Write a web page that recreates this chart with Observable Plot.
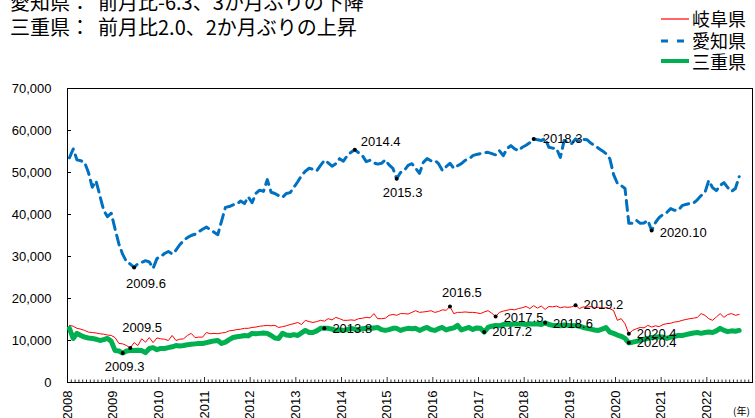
<!DOCTYPE html>
<html><head><meta charset="utf-8">
<script src="https://cdn.jsdelivr.net/npm/d3@7"></script>
<script src="https://cdn.jsdelivr.net/npm/@observablehq/plot@0.6"></script>
<style>
body{margin:0;background:#fff;}
#wrap{position:relative;width:755px;height:418px;overflow:hidden;background:#fff;font-family:"Noto Sans CJK JP",sans-serif;color:#000;}
.t{position:absolute;font-size:20px;line-height:20px;white-space:nowrap;}
.lgt{position:absolute;font-size:18px;line-height:18px;white-space:nowrap;left:692px;}
.lgl{position:absolute;left:661px;}
#chart{position:absolute;left:0;top:0;}
#unit{position:absolute;left:733px;top:406px;font-size:10px;line-height:10px;}
</style></head><body>
<div id="wrap">
  <div id="chart"></div>
  <div class="t" style="left:10px;top:-8px">愛知県：</div>
  <div class="t" style="left:98px;top:-8px">前月比-6.3、3か月ぶりの下降</div>
  <div class="t" style="left:10px;top:17px">三重県：</div>
  <div class="t" style="left:98px;top:17px">前月比2.0、2か月ぶりの上昇</div>
  <svg class="lgl" style="top:14px" width="28" height="10"><line x1="0" x2="28" y1="5" y2="5" stroke="#ff0000" stroke-width="1.2"/></svg>
  <div class="lgt" style="top:9px">岐阜県</div>
  <svg class="lgl" style="top:36px" width="28" height="10"><line x1="0" x2="28" y1="5" y2="5" stroke="#0070c0" stroke-width="3" stroke-dasharray="7,9"/></svg>
  <div class="lgt" style="top:31px">愛知県</div>
  <svg class="lgl" style="top:56px" width="28" height="10"><line x1="0" x2="28" y1="5" y2="5" stroke="#00b050" stroke-width="4"/></svg>
  <div class="lgt" style="top:52px">三重県</div>
  <div id="unit">(年)</div>
</div>
<script>
// ---- data (monthly, Jan 2008 onward) ----
const startYear = 2008;
const seriesNames = ["岐阜県", "愛知県", "三重県"];
const gifu = [
  13600,13400,12900,12700,12400,12000,11900,11800,11600,11500,11300,11200,
  10700,9300,9200,8800,8200,9500,8800,10400,9600,10700,9500,10600,
  10400,10300,10000,11200,10000,10300,10400,11200,11700,10700,10800,10800,
  11900,11600,11700,11600,11800,11900,12300,12400,12600,12700,12900,12900,
  13100,13200,13400,13500,13600,13500,13600,13100,13300,13500,13800,14000,
  14300,13800,14800,14500,14300,14500,14800,14600,15200,14900,15500,15200,
  14800,14800,14900,14800,15200,15300,15500,15400,16400,15200,15200,15300,
  16000,16200,16000,16400,16400,16300,16700,17100,16700,16800,16900,17100,
  16700,16900,17300,17200,18100,16400,16700,16700,16800,16700,16700,16600,
  16400,16800,17100,16500,15700,16700,17000,17200,17400,17300,17600,17800,
  18100,17600,18300,17700,18200,17400,18100,18000,18200,17800,18000,17900,
  18000,18400,17600,18000,17900,18100,17800,17900,17700,17800,17600,17100,
  14800,15200,14000,11600,12400,12800,13100,13000,13600,13200,13500,13300,
  13800,14000,14100,14400,14500,14800,15000,15200,15300,15500,16400,16000,
  15200,14800,15600,16400,15500,16200,16400,16000,16200
];
const aichi = [
  53500,55600,53000,52800,52400,50000,46500,48000,44500,41000,39500,40300,
  36500,33000,30500,28800,28200,27400,28300,28600,29000,28700,27200,29500,
  30000,30700,31200,30600,31500,32800,33800,34500,35000,35300,35900,36500,
  37000,36400,35800,35200,38500,41700,41900,42300,42500,43200,42600,44200,
  42800,45000,45800,45500,48300,45300,45000,44500,44100,45000,45200,46500,
  47800,49300,50300,51000,50800,50400,51700,52900,52300,51500,52100,53300,
  52700,54000,54800,55400,54700,54000,52600,52900,52300,52000,52200,53000,
  51800,51000,48500,50000,50500,51700,52100,51000,49800,52400,53300,52800,
  52900,52100,50500,51400,52200,51000,51600,52100,52900,53200,54000,54300,
  54500,54700,54800,54500,54200,55200,54000,55700,56400,55600,55200,56000,
  56500,57100,58000,57800,57600,58100,56000,55800,55700,53600,57600,57200,
  56900,58000,57400,57900,57800,57000,56400,55800,55200,54500,53300,49500,
  47400,46900,46200,37900,37900,38600,37900,38000,38600,36200,38100,39300,
  40000,40500,41400,41000,41000,42100,42400,42600,42700,43500,44500,45200,
  48100,46400,45700,46900,47600,46400,45500,46200,49000
];
const mie = [
  12900,10500,11700,11200,10800,10600,10500,10300,10000,10200,10500,9800,
  7600,7500,7000,7500,7600,7600,7700,7600,7100,8100,8300,7800,
  8100,8100,8300,8500,8800,8700,8800,9000,9100,9200,9300,9300,
  9500,9700,9900,10000,9300,9600,10200,10700,10900,11000,11200,11100,
  11700,11600,11700,11800,11700,11200,10600,10500,11700,11300,11200,11400,
  11200,11800,12400,11900,11900,12300,12900,12900,12900,12700,12400,12500,
  12400,12600,12900,12700,12600,12800,12900,12900,13000,13100,12600,12400,
  12600,12900,12900,12400,12700,12900,12800,12900,12400,12800,13100,12600,
  12400,12800,13100,12500,12800,13000,13600,12500,12800,13100,12600,13000,
  12900,12000,13100,13400,13600,13500,13800,13900,13800,14000,13900,14000,
  13800,14000,13900,14000,13800,14200,13800,13600,13600,13500,13700,13600,
  13500,13600,13400,13100,12900,12700,12500,12400,12700,13100,12000,11700,
  11300,11000,10500,9450,9600,9800,10000,10300,10500,10700,10800,10900,
  10800,10500,10800,11000,11200,11200,11400,11600,11800,11900,11700,11900,
  12000,11900,12300,12900,12400,12100,12300,12200,12400
];
const yTicks = [0, 10000, 20000, 30000, 40000, 50000, 60000, 70000];
const yearLabels = [2008,2009,2010,2011,2012,2013,2014,2015,2016,2017,2018,2019,2020,2021,2022];
const annotationSeries = ["愛知県","愛知県","愛知県","愛知県","愛知県",
  "岐阜県","岐阜県","岐阜県","岐阜県","岐阜県",
  "三重県","三重県","三重県","三重県","三重県"];
const annotationMonths = ["2009.6","2014.4","2015.3","2018.3","2020.10",
  "2009.5","2016.5","2017.5","2019.2","2020.4",
  "2009.3","2013.8","2017.2","2018.6","2020.4"];

// ---- layout / styles ----
const W = 755, H = 418, mL = 67, mR = 3, mT = 88, mB = 36;
const xDomain = [2008, 2023];
const pxX = (xDomain[1] - xDomain[0]) / (W - mL - mR);
const pxY = 70000 / (H - mT - mB);
const labelOffsets = [[-8,16],[6,-8],[-14,14],[9,0],[8,2],
  [-8,-20],[-8,-14],[8,1],[8,0],[8,0],
  [-18,14],[8,1],[8,0],[8,1],[8,0]];

const valuesBy = {"岐阜県": gifu, "愛知県": aichi, "三重県": mie};
const toX = i => startYear + (i + 0.5) / 12;
const rows = name => valuesBy[name].map((v, i) => ({series: name, x: toX(i), v}));

const annRows = annotationMonths.map((m, k) => {
  const [yy, mm] = m.split(".").map(Number);
  const i = (yy - startYear) * 12 + (mm - 1);
  return {label: m, series: annotationSeries[k], x: toX(i), v: valuesBy[annotationSeries[k]][i], k};
});

const monthTicks = d3.range(0, 181).map(i => ({x: startYear + i / 12, major: i % 12 === 0}));

const chart = Plot.plot({
  width: W, height: H,
  marginLeft: mL, marginRight: mR, marginTop: mT, marginBottom: mB,
  style: {fontFamily: "'Liberation Sans', Arial, sans-serif", fontSize: "13px", color: "#000", background: "transparent", overflow: "visible"},
  x: {domain: xDomain},
  y: {domain: [0, 70000]},
  marks: [
    Plot.frame({stroke: "#000", strokeWidth: 1}),
    Plot.axisY(yTicks, {tickSize: 0, tickPadding: 16, tickFormat: d3.format(","), label: null, fontSize: 13, fill: "#000"}),
    Plot.ruleY(yTicks, {x1: xDomain[0], x2: xDomain[0] + 4 * pxX, stroke: "#000"}),
    Plot.axisX(yearLabels, {tickSize: 0, tickPadding: 8, tickRotate: -90, textAnchor: "end", tickFormat: d => String(d), label: null, fontSize: 13, fill: "#000"}),
    Plot.ruleX(monthTicks, {x: "x", y1: 0, y2: d => (d.major ? 5 : 2.5) * pxY, stroke: "#000", strokeWidth: 0.8}),
    Plot.line(rows("岐阜県"), {x: "x", y: "v", stroke: "#ff0000", strokeWidth: 1}),
    Plot.line(rows("愛知県"), {x: "x", y: "v", stroke: "#0070c0", strokeWidth: 3, strokeDasharray: "10,6"}),
    Plot.line(rows("三重県"), {x: "x", y: "v", stroke: "#00b050", strokeWidth: 5, strokeLinejoin: "round"}),
    Plot.dot(annRows, {x: "x", y: "v", r: 2, fill: "#000", stroke: null}),
    ...annRows.map(a => Plot.text([a], {x: "x", y: "v", text: "label", textAnchor: "start",
      dx: labelOffsets[a.k][0], dy: labelOffsets[a.k][1], fontSize: 13, fill: "#000"}))
  ]
});
document.getElementById("chart").appendChild(chart);
</script>
</body></html>
